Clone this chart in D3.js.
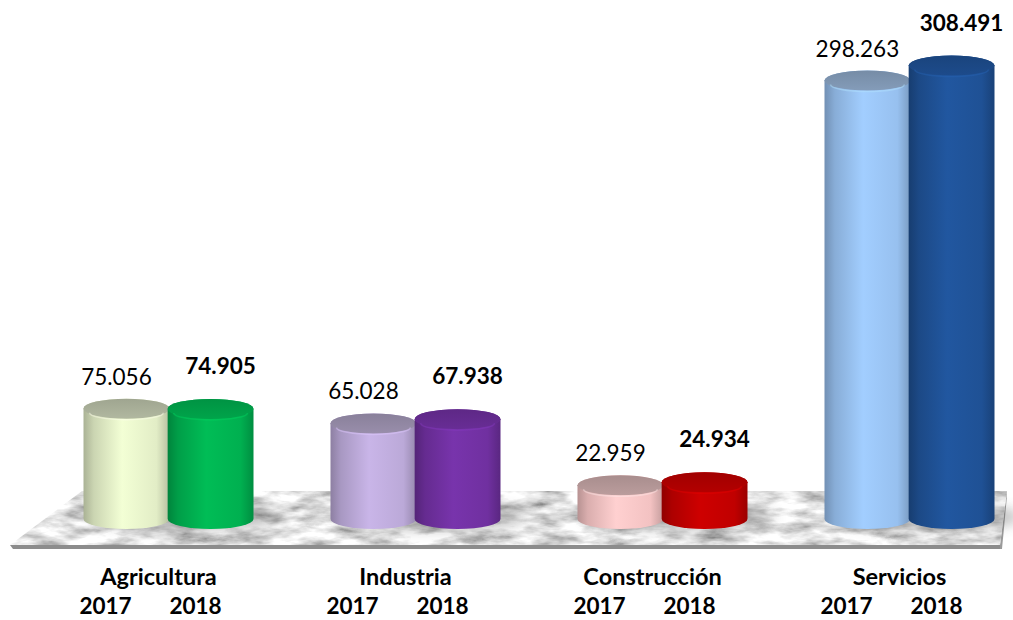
<!DOCTYPE html>
<html>
<head>
<meta charset="utf-8">
<script src="https://cdn.jsdelivr.net/npm/d3@7"></script>
<style>
  html, body { margin: 0; padding: 0; background: #fff; }
  svg { display: block; font-family: Lato, "Noto Sans", sans-serif; }
</style>
</head>
<body>
<div id="chart"></div>
<script>
// Empleo por sector, 2017 vs 2018 — cilindros estilo Excel 3D

const categories = ['Agricultura', 'Industria', 'Construcción', 'Servicios'];
const years = ['2017', '2018'];
const values2017 = [75056, 65028, 22959, 298263];
const values2018 = [74905, 67938, 24934, 308491];
const colors2017 = ['#e2edc6', '#bba9d8', '#f3c2c2', '#97c0ef'];
const colors2018 = ['#00b050', '#7030a0', '#c00000', '#1f5195'];

const W = 1013, H = 620;
const baseY = 519;     // centre of the bottom ellipse
const ry = 10;

const es = d3.formatLocale({ decimal: ',', thousands: '.', grouping: [3], currency: ['', ''] });
const fmt = es.format(',d');

const rows = [];
categories.forEach((c, i) => {
  rows.push({ cat: c, year: '2017', value: values2017[i], color: colors2017[i], idx: i });
  rows.push({ cat: c, year: '2018', value: values2018[i], color: colors2018[i], idx: i });
});

const x0 = d3.scaleBand().domain(categories).range([44, 1032]);
const x1 = d3.scaleBand().domain(years).range([-84, 86]).paddingInner(-0.02);
const y = d3.scaleLinear().domain([0, 300000]).range([baseY, baseY - 441]);

const svg = d3.select('#chart').append('svg')
  .attr('width', W).attr('height', H);

const defs = svg.append('defs');

// marble floor texture
const marble = defs.append('filter').attr('id', 'marble')
  .attr('x', 0).attr('y', 0).attr('width', '100%').attr('height', '100%');
marble.append('feTurbulence').attr('type', 'fractalNoise')
  .attr('baseFrequency', '0.03 0.09').attr('numOctaves', 4).attr('seed', 7).attr('result', 'n');
marble.append('feColorMatrix').attr('in', 'n').attr('type', 'matrix')
  .attr('values', '1.4 0 0 0 0.06  1.4 0 0 0 0.06  1.4 0 0 0 0.06  0 0 0 0 1').attr('result', 'g');
marble.append('feComposite').attr('in', 'g').attr('in2', 'SourceGraphic').attr('operator', 'in');

defs.append('filter').attr('id', 'soft')
  .attr('x', '-50%').attr('y', '-100%').attr('width', '200%').attr('height', '300%')
  .append('feGaussianBlur').attr('stdDeviation', 7);

function topColor(c) {
  // light cylinders get a greyish lid, dark ones just a darker one
  if (d3.hsl(c).l > 0.6) return d3.color(d3.interpolateRgb(c, '#5a5a5a')(0.43));
  return d3.color(c).darker(0.35);
}

// body gradients (dark edges, light centre)
rows.forEach((d, i) => {
  const c = d3.color(d.color);
  const g = defs.append('linearGradient').attr('id', 'body' + i)
    .attr('x1', 0).attr('x2', 1).attr('y1', 0).attr('y2', 0);
  g.append('stop').attr('offset', 0).attr('stop-color', c.darker(0.8));
  g.append('stop').attr('offset', 0.12).attr('stop-color', c.darker(0.3));
  g.append('stop').attr('offset', 0.45).attr('stop-color', c.brighter(0.2));
  g.append('stop').attr('offset', 0.85).attr('stop-color', c);
  g.append('stop').attr('offset', 1).attr('stop-color', c.darker(0.6));

  const t = defs.append('linearGradient').attr('id', 'top' + i)
    .attr('x1', 0).attr('x2', 0).attr('y1', 0).attr('y2', 1);
  const top = topColor(d.color);
  t.append('stop').attr('offset', 0).attr('stop-color', top.darker(0.15));
  t.append('stop').attr('offset', 1).attr('stop-color', top.brighter(0.15));
});

// floor slab
const floor = svg.append('g');
floor.append('path')
  .attr('d', 'M10,545 L1000,545 L1000,549 L13,549 Z')
  .attr('fill', '#8c8c8c');
floor.append('path')
  .attr('d', 'M1000,545 L1007,491 L1007,496 L1002,549 L1000,549 Z')
  .attr('fill', '#9a9a9a');
floor.append('path')
  .attr('d', 'M82,491 L1007,491 L1000,545 L10,545 Z')
  .attr('fill', '#c8c8c8')
  .attr('filter', 'url(#marble)');

// shadows on the floor
svg.append('g').selectAll('ellipse')
  .data(categories)
  .join('ellipse')
  .attr('cx', d => x0(d) + x0.bandwidth() / 2 + 18)
  .attr('cy', baseY - 2)
  .attr('rx', 95)
  .attr('ry', 12)
  .attr('fill', '#444')
  .attr('opacity', 0.4)
  .attr('filter', 'url(#soft)');

// cylinders
const cyl = svg.append('g').selectAll('g')
  .data(rows)
  .join('g');

cyl.each(function (d, i) {
  const g = d3.select(this);
  const w = x1.bandwidth();
  const xl = x0(d.cat) + x0.bandwidth() / 2 + x1(d.year);
  const rx = w / 2;
  const yt = y(d.value);
  g.append('path')
    .attr('d', `M${xl},${yt} L${xl},${baseY} A${rx},${ry} 0 0 0 ${xl + w},${baseY} L${xl + w},${yt} A${rx},${ry} 0 0 0 ${xl},${yt} Z`)
    .attr('fill', `url(#body${i})`);
  g.append('ellipse')
    .attr('cx', xl + rx).attr('cy', yt)
    .attr('rx', rx).attr('ry', ry)
    .attr('fill', `url(#top${i})`);
  // thin highlight along the front rim of the top
  g.append('path')
    .attr('d', `M${xl + 6},${yt + 4} A${rx - 6},${ry - 3} 0 0 0 ${xl + w - 6},${yt + 4}`)
    .attr('fill', 'none')
    .attr('stroke', d3.color(d.color).brighter(0.5))
    .attr('stroke-opacity', 0.45)
    .attr('stroke-width', 1.5);
});

// value labels
svg.append('g').selectAll('text')
  .data(rows)
  .join('text')
  .attr('x', d => x0(d.cat) + x0.bandwidth() / 2 + x1(d.year) + x1.bandwidth() / 2 + (d.year === '2018' ? 10 : -10))
  .attr('y', d => y(d.value) - ry - (d.year === '2018' ? 25 : 14))
  .attr('text-anchor', 'middle')
  .attr('font-size', 22.5)
  .attr('font-weight', d => d.year === '2018' ? 700 : 400)
  .attr('fill', '#000')
  .text(d => fmt(d.value));

// category + year labels
const lab = svg.append('g').attr('font-weight', 700).attr('fill', '#000');
lab.selectAll('text.cat')
  .data(categories)
  .join('text')
  .attr('class', 'cat')
  .attr('x', d => x0(d) + x0.bandwidth() / 2 - 9)
  .attr('y', 585)
  .attr('text-anchor', 'middle')
  .attr('font-size', 23.5)
  .text(d => d);

lab.selectAll('text.yr')
  .data(rows)
  .join('text')
  .attr('class', 'yr')
  .attr('x', d => x0(d.cat) + x0.bandwidth() / 2 + (d.year === '2017' ? -62 : 28))
  .attr('y', 614)
  .attr('text-anchor', 'middle')
  .attr('font-size', 22.5)
  .text(d => d.year);
</script>
</body>
</html>
